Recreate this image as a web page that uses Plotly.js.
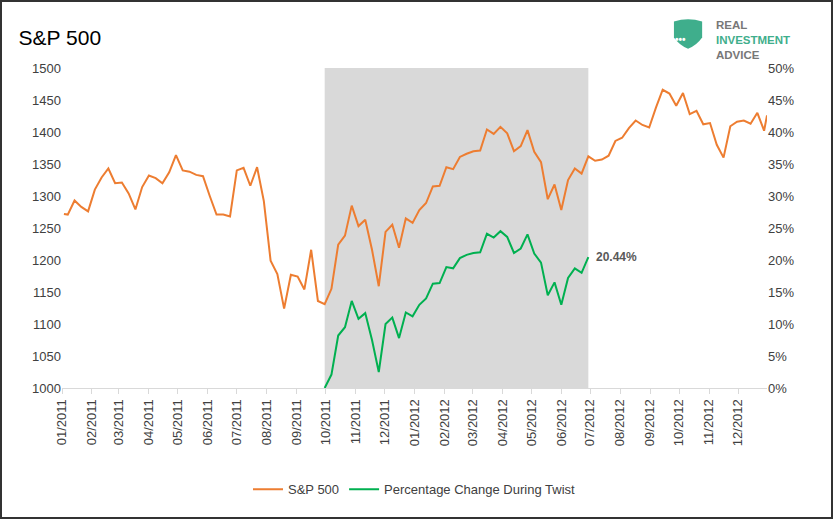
<!DOCTYPE html><html><head><script src="https://cdn.plot.ly/plotly-3.0.1.min.js"></script>
<style>body{margin:0}#c{width:833px;height:519px;box-sizing:border-box;border:2px solid #333;}</style></head><body><div id="c"></div><script>
const spDates=["2011-01-03","2011-01-07","2011-01-14","2011-01-21","2011-01-28","2011-02-04","2011-02-11","2011-02-18","2011-02-25","2011-03-04","2011-03-11","2011-03-18","2011-03-25","2011-04-01","2011-04-08","2011-04-15","2011-04-22","2011-04-29","2011-05-06","2011-05-13","2011-05-20","2011-05-27","2011-06-03","2011-06-10","2011-06-17","2011-06-24","2011-07-01","2011-07-08","2011-07-15","2011-07-22","2011-07-29","2011-08-05","2011-08-12","2011-08-19","2011-08-26","2011-09-02","2011-09-09","2011-09-16","2011-09-23","2011-09-30","2011-10-07","2011-10-14","2011-10-21","2011-10-28","2011-11-04","2011-11-11","2011-11-18","2011-11-25","2011-12-02","2011-12-09","2011-12-16","2011-12-23","2011-12-30","2012-01-06","2012-01-13","2012-01-20","2012-01-27","2012-02-03","2012-02-10","2012-02-17","2012-02-24","2012-03-02","2012-03-09","2012-03-16","2012-03-23","2012-03-30","2012-04-06","2012-04-13","2012-04-20","2012-04-27","2012-05-04","2012-05-11","2012-05-18","2012-05-25","2012-06-01","2012-06-08","2012-06-15","2012-06-22","2012-06-29","2012-07-06","2012-07-13","2012-07-20","2012-07-27","2012-08-03","2012-08-10","2012-08-17","2012-08-24","2012-08-31","2012-09-07","2012-09-14","2012-09-21","2012-09-28","2012-10-05","2012-10-12","2012-10-19","2012-10-26","2012-11-02","2012-11-09","2012-11-16","2012-11-23","2012-11-30","2012-12-07","2012-12-14","2012-12-21","2012-12-28","2012-12-31"];
const spValues=[1272,1271,1293,1283,1276,1310,1329,1343,1320,1321,1304,1279,1314,1332,1328,1320,1337,1364,1340,1338,1333,1331,1300,1271,1271,1268,1340,1344,1316,1345,1292,1199,1178,1124,1177,1174,1154,1216,1136,1131,1155,1224,1238,1285,1253,1263,1216,1159,1244,1255,1219,1265,1258,1278,1289,1315,1316,1345,1342,1361,1366,1370,1371,1404,1397,1408,1398,1370,1378,1403,1369,1353,1295,1318,1278,1325,1343,1335,1362,1355,1357,1363,1386,1391,1406,1418,1411,1407,1438,1466,1460,1441,1461,1428,1433,1412,1414,1380,1360,1409,1416,1418,1413,1430,1402,1426];
const twistDates=spDates.slice(39,79);
const twistPct=[0,2.1,8.2,9.5,13.6,10.8,11.7,7.5,2.5,10.0,11.0,7.8,11.8,11.2,13.0,14.0,16.3,16.4,18.9,18.7,20.3,20.8,21.1,21.2,24.1,23.5,24.5,23.6,21.1,21.8,24.0,21.0,19.6,14.5,16.5,13.0,17.2,18.7,18.0,20.44];
const yTicks=[1000,1050,1100,1150,1200,1250,1300,1350,1400,1450,1500];
const y2Ticks=[0,5,10,15,20,25,30,35,40,45,50];
const fnt={family:"Liberation Sans, Arial",size:13,color:"#404040"};
Plotly.newPlot("c",[
{x:spDates,y:spValues,type:"scatter",mode:"lines",name:"S&P 500",line:{color:"#ED7D31",width:2}},
{x:twistDates,y:twistPct.map(v=>v/100),type:"scatter",mode:"lines",name:"Percentage Change During Twist",yaxis:"y2",line:{color:"#00B050",width:2}}
],{
width:829,height:515,margin:{l:60,r:64,t:66,b:97},paper_bgcolor:"#fff",plot_bgcolor:"#fff",font:fnt,
title:{text:"S&P 500",x:0.02,xanchor:"left",y:0.945,font:{family:"Liberation Sans, Arial",size:21,color:"#000"}},
xaxis:{type:"date",range:["2011-01-01","2012-12-31"],tick0:"2011-01-01",dtick:"M1",tickformat:"%m/%Y",tickangle:-90,showgrid:false,showline:true,linecolor:"#d9d9d9",ticks:"outside",tickcolor:"#d9d9d9",ticklen:5,zeroline:false},
yaxis:{range:[1000,1500],tickvals:yTicks,showgrid:false,zeroline:false,showline:false,ticks:""},
yaxis2:{range:[0,0.5],overlaying:"y",side:"right",tickvals:y2Ticks.map(v=>v/100),ticktext:y2Ticks.map(v=>v+"%"),showgrid:false,zeroline:false},
shapes:[{type:"rect",xref:"x",yref:"paper",x0:"2011-09-30",x1:"2012-06-29",y0:0,y1:1,fillcolor:"#d9d9d9",line:{width:0},layer:"below"},
{type:"path",xref:"paper",yref:"paper",path:"M 0.868 1.145 Q 0.888 1.16 0.908 1.145 L 0.908 1.095 Q 0.9 1.07 0.888 1.06 Q 0.876 1.07 0.868 1.095 Z",fillcolor:"#3fae8c",line:{width:0}}],
annotations:[
{x:"2012-06-29",y:0.2044,yref:"y2",text:"<b>20.44%</b>",showarrow:false,xanchor:"left",xshift:6,font:{size:12,color:"#595959"}},
{xref:"paper",yref:"paper",x:0.888,y:1.112,text:"<b>•••</b>",showarrow:false,font:{size:10,color:"#fff"}},
{xref:"paper",yref:"paper",x:0.925,y:1.16,yanchor:"top",xanchor:"left",align:"left",showarrow:false,text:"<b><span style='color:#777'>REAL</span><br><span style='color:#3fae8c'>INVESTMENT</span><br><span style='color:#777'>ADVICE</span></b>",font:{size:11.5}}
],
showlegend:true,legend:{orientation:"h",x:0.5,xanchor:"center",y:-0.27,yanchor:"top",font:fnt}
});
</script></body></html>
